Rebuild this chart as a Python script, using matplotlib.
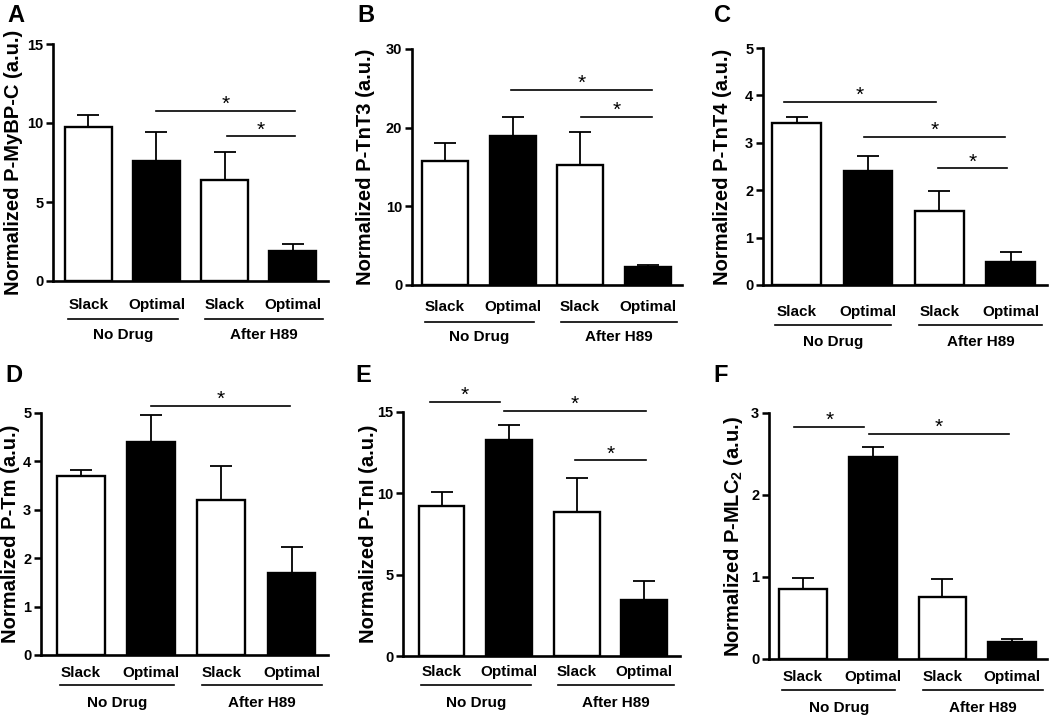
import numpy as np
import matplotlib
matplotlib.use("Agg")
import matplotlib.pyplot as plt

plt.rcParams['font.family'] = ['Liberation Sans', 'DejaVu Sans']
plt.rcParams['mathtext.fontset'] = 'custom'
plt.rcParams['mathtext.rm'] = 'Liberation Sans'
plt.rcParams['mathtext.bf'] = 'Liberation Sans:bold'

"""
Data
"""
conditions = ["Slack", "Optimal", "Slack", "Optimal"]
groups = ["No Drug", "After H89"]
fill = ["white", "black", "white", "black"]

letters = ["A", "B", "C", "D", "E", "F"]
ylabels = ["Normalized P-MyBP-C (a.u.)",
           "Normalized P-TnT3 (a.u.)",
           "Normalized P-TnT4 (a.u.)",
           "Normalized P-Tm (a.u.)",
           "Normalized P-TnI (a.u.)",
           r"Normalized P-MLC$_{\mathbf{2}}$ (a.u.)"]

mybpc_mean = [9.75, 7.61, 6.38, 1.90]
mybpc_sem = [0.74, 1.80, 1.80, 0.47]
tnt3_mean = [15.8, 18.9, 15.2, 2.25]
tnt3_sem = [2.2, 2.4, 4.2, 0.3]
tnt4_mean = [3.42, 2.40, 1.57, 0.48]
tnt4_sem = [0.12, 0.33, 0.42, 0.21]
tm_mean = [3.70, 4.41, 3.21, 1.69]
tm_sem = [0.13, 0.54, 0.70, 0.55]
tni_mean = [9.23, 13.29, 8.88, 3.47]
tni_sem = [0.88, 0.89, 2.07, 1.15]
mlc2_mean = [0.85, 2.46, 0.76, 0.21]
mlc2_sem = [0.14, 0.12, 0.21, 0.04]

means = [mybpc_mean, tnt3_mean, tnt4_mean, tm_mean, tni_mean, mlc2_mean]
sems = [mybpc_sem, tnt3_sem, tnt4_sem, tm_sem, tni_sem, mlc2_sem]

yticks = [[0, 5, 10, 15], [0, 10, 20, 30], [0, 1, 2, 3, 4, 5],
          [0, 1, 2, 3, 4, 5], [0, 5, 10, 15], [0, 1, 2, 3]]

# significance bars: (start, end, height)
sig_a = [(1.0, 3.04, 10.78), (2.03, 3.04, 9.15)]
sig_b = [(0.98, 3.06, 24.8), (2.02, 3.06, 21.36)]
sig_c = [(-0.17, 1.95, 3.87), (0.94, 2.92, 3.12), (1.98, 2.95, 2.46)]
sig_d = [(1.0, 2.98, 5.14)]
sig_e = [(-0.17, 0.87, 15.64), (0.93, 3.02, 15.06), (1.98, 3.02, 12.02)]
sig_f = [(-0.13, 0.88, 2.83), (0.94, 2.96, 2.74)]
sigs = [sig_a, sig_b, sig_c, sig_d, sig_e, sig_f]

"""
Layout (pixels: left, right, top, bottom) and x limits
"""
W, H = 1050, 717
boxes = [(53, 328, 44, 281), (412, 682, 49, 285), (763, 1047, 48, 285),
         (41, 328, 413, 655), (403, 680, 412, 656), (769, 1047, 413, 659)]
xlims = [(-0.52, 3.52), (-0.49, 3.51), (-0.47, 3.51),
         (-0.57, 3.52), (-0.57, 3.53), (-0.49, 3.50)]
# offsets below axis (px): tick label, group line, group label
offs = [(24, 38, 54), (22, 37, 52), (27, 40, 57),
        (18, 30, 48), (16, 29, 47), (18, 31, 49)]
# distance of y label's right edge from the y axis (px)
ylab_dx = [30, 37, 31, 21, 25, 24]
letter_pos = [(7, 4), (357, 4), (714, 4), (5, 364), (355, 364), (713, 364)]

fig = plt.figure(figsize=(W / 100, H / 100), dpi=100)

x = np.arange(4)
for i in range(6):
    l, r, t, b = boxes[i]
    ax = fig.add_axes([l / W, 1 - b / H, (r - l) / W, (b - t) / H])
    hpx = b - t

    ax.bar(x, means[i], width=0.68, color=fill, edgecolor="black",
           linewidth=1.7, zorder=2)
    ax.errorbar(x, means[i], yerr=[np.zeros(4), sems[i]], fmt="none",
                ecolor="black", elinewidth=1.3, capsize=8, capthick=1.3,
                zorder=1)

    ax.set_xlim(*xlims[i])
    ax.set_ylim(0, yticks[i][-1])
    ax.set_yticks(yticks[i])
    ax.set_yticklabels([str(v) for v in yticks[i]], fontsize=10.5,
                       fontweight="bold")
    ax.tick_params(axis="y", length=5, width=1.8, pad=2)
    ax.set_xticks([])
    for s in ["top", "right"]:
        ax.spines[s].set_visible(False)
    for s in ["left", "bottom"]:
        ax.spines[s].set_linewidth(1.9)
    ax.set_ylabel(ylabels[i], fontsize=14.5, fontweight="bold")
    ax.yaxis.set_label_coords(-ylab_dx[i] / (r - l), 0.5)

    trans = ax.get_xaxis_transform()
    o1, o2, o3 = offs[i]
    for j in range(4):
        ax.text(x[j], -o1 / hpx, conditions[j], transform=trans,
                ha="center", va="center", fontsize=11, fontweight="bold")
    for k, (g0, g1) in enumerate([(-0.3, 1.32), (1.72, 3.44)]):
        ax.plot([g0, g1], [-o2 / hpx] * 2, color="black", lw=1.2,
                transform=trans, clip_on=False)
        ax.text((g0 + g1) / 2, -o3 / hpx, groups[k], transform=trans,
                ha="center", va="center", fontsize=11, fontweight="bold")

    for (s0, s1, sy) in sigs[i]:
        ax.plot([s0, s1], [sy, sy], color="black", lw=1.2, clip_on=False)
        ax.annotate("*", xy=((s0 + s1) / 2, sy), xytext=(0, -3),
                    textcoords="offset pixels", ha="center", va="bottom",
                    fontsize=15, annotation_clip=False)

    fig.text(letter_pos[i][0] / W, 1 - letter_pos[i][1] / H, letters[i],
             ha="left", va="top", fontsize=17, fontweight="bold")

fig.savefig("out.png", dpi=100)
